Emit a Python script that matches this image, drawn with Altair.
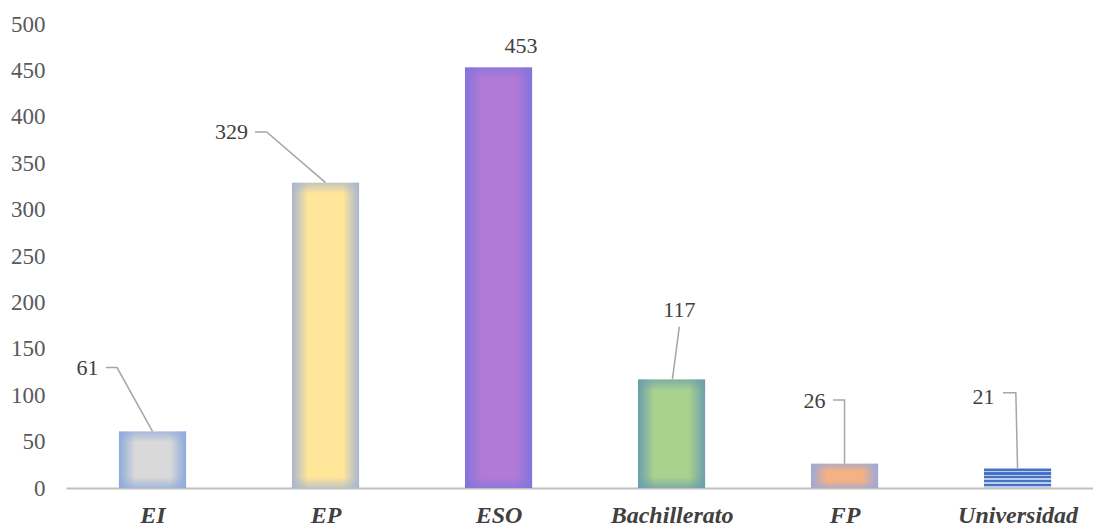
import altair as alt
import pandas as pd

# Students by educational stage
categories = ["EI", "EP", "ESO", "Bachillerato", "FP", "Universidad"]
values = [61, 329, 453, 117, 26, 21]

# Bar fill colours: centre colour and edge (glow) colour
centre_colors = ["#d9d9d9", "#ffe699", "#b07ad6", "#a9d18e", "#f4b183", None]
edge_colors = ["#8eaadb", "#a9b6cf", "#8374dc", "#6b9eae", "#9ea9d8", None]
stripe_colors = ["#4472c4", "#bccbea"]

# Data-label placement (x offset in category units, y in value units)
label_dx = [-0.376, -0.543, 0.130, 0.045, -0.173, -0.197]
label_y = [129.8, 383.6, 476.3, 191.8, 93.8, 98.0]

# Leader lines: (x offset, y value) points from the label to the bar top
leaders = {
    "EI": [(-0.269, 129.8), (-0.205, 129.8), (0.0, 61)],
    "EP": [(-0.408, 383.6), (-0.340, 383.6), (0.0, 329)],
    "Bachillerato": [(0.045, 173.8), (0.005, 117)],
    "FP": [(-0.066, 94.8), (0.0, 94.8), (0.0, 26)],
    "Universidad": [(-0.084, 102.7), (-0.010, 102.7), (0.0, 21)],
}

W, H = 1027, 464
Y_MAX = 500
HALF_BAR = 0.194
SERIF = "Times New Roman"

df = pd.DataFrame({"cat": categories, "idx": list(range(len(categories))), "value": values})
df["x0"] = df["idx"] - HALF_BAR
df["x1"] = df["idx"] + HALF_BAR
df["lx"] = df["idx"] + pd.Series(label_dx)
df["ly"] = label_y

rows = []
for cat, pts in leaders.items():
    i = categories.index(cat)
    for k, (dx, yv) in enumerate(pts):
        rows.append({"cat": cat, "seq": k, "x": i + dx, "y": yv})
lead_df = pd.DataFrame(rows)

label_expr = "[" + ",".join(f"'{c}'" for c in categories) + "][datum.value]"

x_scale = alt.Scale(domain=[-0.5, 5.436], nice=False, zero=False)
y_scale = alt.Scale(domain=[0, Y_MAX], nice=False)

x_axis = alt.Axis(
    values=list(range(len(categories))), labelExpr=label_expr, grid=False, ticks=False, tickSize=0,
    domainColor="#bfbfbf", domainWidth=2, labelFont=SERIF, labelFontSize=24, labelFontStyle="italic",
    labelFontWeight="bold", labelColor="#404040", labelPadding=27, labelBaseline="middle",
    title=None, labelFlush=False,
)
y_axis = alt.Axis(
    values=list(range(0, Y_MAX + 1, 50)), grid=False, ticks=False, tickSize=0, domain=False,
    labelFont=SERIF, labelFontSize=23, labelColor="#595959", labelPadding=21, title=None,
)

base = alt.Chart(df)


def rgba(hex_color, a):
    h = hex_color.lstrip("#")
    r, g, b = int(h[0:2], 16), int(h[2:4], 16), int(h[4:6], 16)
    return f"rgba({r},{g},{b},{a})"


def hgrad(centre, edge):
    return alt.Gradient(
        gradient="linear", x1=0, x2=1, y1=0, y2=0,
        stops=[
            alt.GradientStop(color=edge, offset=0),
            alt.GradientStop(color=centre, offset=0.24),
            alt.GradientStop(color=centre, offset=0.76),
            alt.GradientStop(color=edge, offset=1),
        ],
    )


def vgrad(edge, frac):
    return alt.Gradient(
        gradient="linear", x1=0, x2=0, y1=0, y2=1,
        stops=[
            alt.GradientStop(color=rgba(edge, 0.7), offset=0),
            alt.GradientStop(color=rgba(edge, 0), offset=frac),
            alt.GradientStop(color=rgba(edge, 0), offset=1 - frac),
            alt.GradientStop(color=rgba(edge, 0.7), offset=1),
        ],
    )


def stripes(n=5):
    stops = []
    for k in range(n):
        stops += [
            alt.GradientStop(color=stripe_colors[0], offset=k / n),
            alt.GradientStop(color=stripe_colors[0], offset=(k + 0.55) / n),
            alt.GradientStop(color=stripe_colors[1], offset=(k + 0.55) / n),
            alt.GradientStop(color=stripe_colors[1], offset=(k + 1) / n),
        ]
    return alt.Gradient(gradient="linear", x1=0, x2=0, y1=0, y2=1, stops=stops)


enc = dict(
    x=alt.X("x0:Q", scale=x_scale, axis=x_axis),
    x2="x1:Q",
    y=alt.Y("value:Q", scale=y_scale, axis=y_axis),
    y2=alt.datum(0),
)

layers = []
for i, cat in enumerate(categories):
    sub = base.transform_filter(alt.datum.cat == cat)
    if centre_colors[i] is None:
        layers.append(sub.mark_rect(fill=stripes()).encode(**enc))
        continue
    layers.append(sub.mark_rect(fill=hgrad(centre_colors[i], edge_colors[i])).encode(**enc))
    bar_px = values[i] * H / Y_MAX
    frac = min(0.3, 11 / bar_px)
    layers.append(sub.mark_rect(fill=vgrad(edge_colors[i], frac)).encode(**enc))

lines = alt.Chart(lead_df).mark_line(color="#a6a6a6", strokeWidth=1.5).encode(
    x=alt.X("x:Q", scale=x_scale),
    y=alt.Y("y:Q", scale=y_scale),
    detail="cat:N",
    order="seq:Q",
)

labels = base.mark_text(font=SERIF, fontSize=22, color="#404040", baseline="middle", align="center").encode(
    x=alt.X("lx:Q", scale=x_scale),
    y=alt.Y("ly:Q", scale=y_scale),
    text="value:Q",
)

chart = alt.layer(*layers, lines, labels).properties(
    width=W, height=H,
    background="white",
    autosize=alt.AutoSizeParams(type="none"),
    padding={"left": 66, "top": 24, "right": 0, "bottom": 38},
).configure(font=SERIF).configure_axis(grid=False).configure_view(stroke=None, strokeWidth=0, strokeOpacity=0)

chart.save("out.html", embed_options={"renderer": "svg", "actions": False})
